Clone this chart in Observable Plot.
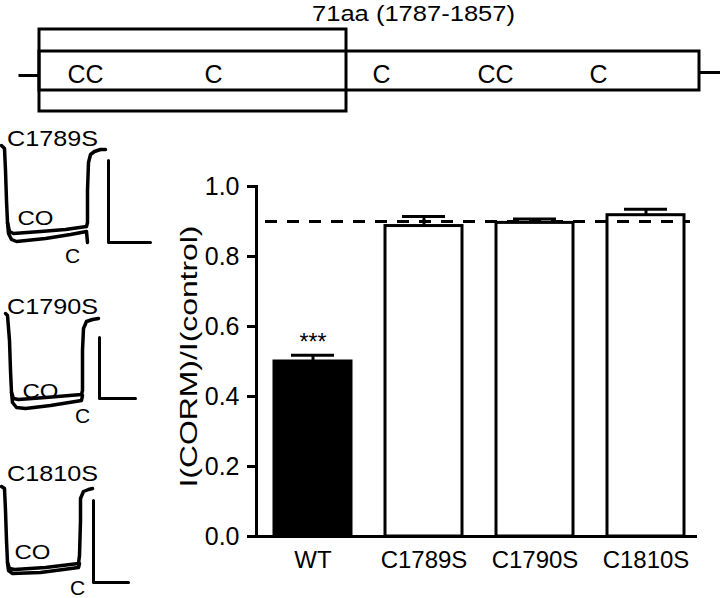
<!DOCTYPE html>
<html><head><meta charset="utf-8">
<script src="https://cdn.jsdelivr.net/npm/d3@7"></script>
<script src="https://cdn.jsdelivr.net/npm/@observablehq/plot@0.6"></script>
<style>
body{margin:0;background:#fff;}
#wrap{position:relative;width:720px;height:598px;background:#fff;}
#wrap svg{position:absolute;left:0;top:0;}
</style></head><body><div id="wrap"></div>
<script>
// ---- bar chart data ----
const categories = ["WT", "C1789S", "C1790S", "C1810S"];
const ratios = [0.50, 0.887, 0.896, 0.918];
const sems = [0.018, 0.027, 0.011, 0.017];
const significance = ["***", "", "", ""];
const yTicks = [0, 0.2, 0.4, 0.6, 0.8, 1.0];
const controlLevel = 0.9;
const yLabel = "I(CORM)/I(control)";

// ---- schematic (figure units = pixels of the original picture) ----
const segmentTitle = "71aa (1787-1857)";
const titlePos = [413, 20];
const linkerLines = [[18, 75, 39, 75], [699, 72, 720, 72]];
const domainBoxes = [[39, 699, 51, 90], [39, 346, 29, 111]];
const cysLabels = ["CC", "C", "C", "CC", "C"];
const cysX = [85, 213, 381, 495, 598];
const cysBaseline = 82;

// ---- current traces (figure units) ----
const traceNames = ["C1789S", "C1790S", "C1810S"];
const traceTitlePos = [[52, 145], [52, 313], [52, 480]];
const coLabelPos = [[35, 224], [40, 397], [32, 558]];
const cLabelPos = [[72, 262], [82, 422], [77, 594]];
const traceCO = [
  [[1,145],[4,148],[5,170],[6,200],[7,222],[9,231],[13,233],[40,231],[65,229],[86,226],[87,222],[87,190],[88,162],[90,154],[94,151],[100,149],[105,149]],
  [[5,313],[7,315],[9,340],[10,370],[11,392],[13,398],[18,399],[45,397],[81,394],[82,390],[82,350],[83,328],[86,321],[92,319],[98,318]],
  [[1,486],[4,488],[5,510],[6,540],[7,562],[9,568],[14,569],[45,567],[78,563],[79,555],[80,520],[80,498],[83,491],[88,489],[92,488]]
];
const traceC = [
  [[7,222],[8,233],[11,239],[16,241],[45,238],[70,234],[86,231],[87,242]],
  [[11,392],[12,402],[16,407],[25,408],[50,405],[81,400],[82,395]],
  [[7,562],[8,570],[12,573],[40,572],[78,567],[79,563]]
];
const scaleBars = [
  [[108,160],[108,242],[150,242]],
  [[99,337],[99,398],[135,398]],
  [[93,500],[93,582],[128,582]]
];

const font = "'Liberation Sans', Arial, Helvetica, sans-serif";
const bars = categories.map((c, i) => ({cat: c, value: ratios[i], sem: sems[i], sig: significance[i]}));

const main = Plot.plot({
  width: 720, height: 598,
  marginLeft: 256, marginRight: 25, marginTop: 186, marginBottom: 62,
  style: {fontFamily: font, fontSize: "24px", background: "transparent", color: "black"},
  x: {domain: categories, range: [256, 701], paddingInner: 0.31, paddingOuter: 0.143},
  y: {domain: [0, 1]},
  color: {domain: categories, range: ["black", "white", "white", "white"]},
  marks: [
    Plot.barY(bars, {x: "cat", y: "value", fill: "cat", stroke: "black", strokeWidth: 3}),
    Plot.ruleX(bars, {x: "cat", y1: "value", y2: d => d.value + d.sem, stroke: "black", strokeWidth: 3}),
    Plot.tickY(bars, {x: "cat", y: d => d.value + d.sem, stroke: "black", strokeWidth: 3, insetLeft: 17, insetRight: 17}),
    Plot.ruleY([controlLevel], {stroke: "black", strokeWidth: 3, strokeDasharray: "12,10", insetLeft: 9, insetRight: 5}),
    Plot.axisY({ticks: yTicks, tickFormat: d3.format(".1f"), tickSize: 9, tickPadding: 8, fontSize: 25, strokeWidth: 3, label: null}),
    Plot.axisX({tickSize: 0, tickPadding: 14, fontSize: 24, label: null}),
    Plot.frame({anchor: "left", strokeWidth: 3}),
    Plot.frame({anchor: "bottom", strokeWidth: 3}),
    Plot.text(bars, {x: "cat", y: d => d.value + d.sem, text: "sig", lineAnchor: "bottom", dy: -5, fontSize: 23}),
    Plot.text([yLabel], {frameAnchor: "left", textAnchor: "middle", rotate: -90, dx: -60, dy: -5, lineAnchor: "bottom", fontSize: 24})
  ]
});

// overlay: schematic and traces
const linkers = linkerLines.map(([x1, y1, x2, y2]) => ({x1, y1, x2, y2}));
const boxes = domainBoxes.map(([x1, x2, y1, y2]) => ({x1, x2, y1, y2}));
const cys = cysLabels.map((t, i) => ({t, x: cysX[i], y: cysBaseline}));
const tracePts = [];
traceCO.forEach((tr, k) => tr.forEach(([t, i]) => tracePts.push({id: "CO" + k, t, i})));
traceC.forEach((tr, k) => tr.forEach(([t, i]) => tracePts.push({id: "C" + k, t, i})));
const barPts = [];
scaleBars.forEach((b, k) => b.forEach(([t, i]) => barPts.push({id: k, t, i})));
const titles = traceNames.map((n, k) => ({t: n, x: traceTitlePos[k][0], y: traceTitlePos[k][1]}));
const coLabels = coLabelPos.map(([x, y]) => ({t: "CO", x, y}));
const cLabels = cLabelPos.map(([x, y]) => ({t: "C", x, y}));

const overlay = Plot.plot({
  width: 720, height: 598,
  margin: 0,
  style: {fontFamily: font, fontSize: "22px", background: "transparent", color: "black"},
  x: {type: "linear", domain: [0, 720], range: [0, 720], axis: null},
  y: {type: "linear", domain: [0, 598], range: [0, 598], axis: null},
  marks: [
    Plot.link(linkers, {x1: "x1", y1: "y1", x2: "x2", y2: "y2", stroke: "black", strokeWidth: 3}),
    Plot.rect(boxes, {x1: "x1", x2: "x2", y1: "y1", y2: "y2", fill: "none", stroke: "black", strokeWidth: 3}),
    Plot.text(cys, {x: "x", y: "y", text: "t", lineAnchor: "bottom", fontSize: 25}),
    Plot.text([segmentTitle], {x: () => titlePos[0], y: () => titlePos[1], lineAnchor: "bottom", fontSize: 22}),
    Plot.line(tracePts, {x: "t", y: "i", z: "id", stroke: "black", strokeWidth: 3.5, strokeLinejoin: "round", curve: "linear"}),
    Plot.line(barPts, {x: "t", y: "i", z: "id", stroke: "black", strokeWidth: 3}),
    Plot.text(titles, {x: "x", y: "y", text: "t", lineAnchor: "bottom", fontSize: 22}),
    Plot.text(coLabels, {x: "x", y: "y", text: "t", lineAnchor: "bottom", fontSize: 21}),
    Plot.text(cLabels, {x: "x", y: "y", text: "t", lineAnchor: "bottom", fontSize: 21})
  ]
});

// stretch texts that are drawn wider than their glyph height in the original
function stretch(svg, content, len) {
  d3.select(svg).selectAll("text")
    .filter(function() { return this.textContent === content; })
    .attr("textLength", len).attr("lengthAdjust", "spacingAndGlyphs");
}
stretch(main, yLabel, 262);
stretch(overlay, segmentTitle, 203);
traceNames.forEach(n => stretch(overlay, n, 91));
stretch(overlay, "CO", 36);

const wrap = document.getElementById("wrap");
wrap.appendChild(main);
wrap.appendChild(overlay);
</script></body></html>
